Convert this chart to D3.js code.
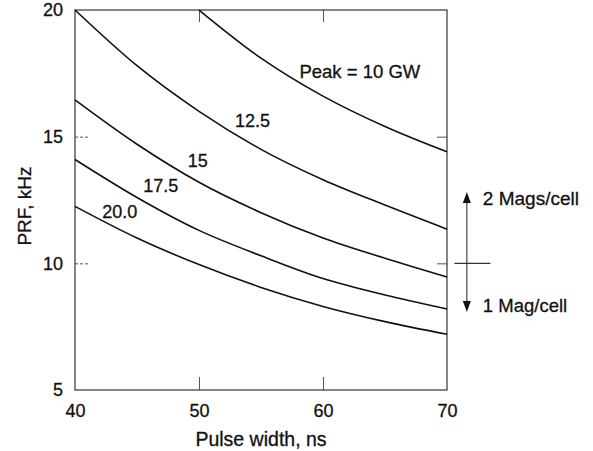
<!DOCTYPE html>
<html>
<head>
<meta charset="utf-8">
<script src="https://cdn.jsdelivr.net/npm/d3@7"></script>
<style>
  body { margin: 0; background: #fff; }
  text { font-family: "Liberation Sans", Arial, sans-serif; fill: #111; stroke: #111; stroke-width: 0.3px; }
  .axis .domain { display: none; }
  .axis line { stroke: #555; }
</style>
</head>
<body>
<svg id="chart"></svg>
<script>
// pulse width (ns) sampled every 5 ns
const pulseWidth = [40, 45, 50, 55, 60, 65, 70];

// PRF (kHz)
const prf10 = [null, null, 20.0, 18.1, 16.6, 15.4, 14.4];
const prf125 = [20.0, 17.8, 16.0, 14.5, 13.3, 12.3, 11.35];
const prf15 = [16.45, 14.7, 13.2, 12.0, 11.0, 10.2, 9.46];
const prf175 = [14.1, 12.6, 11.3, 10.3, 9.4, 8.75, 8.2];
const prf20 = [12.25, 11.0, 9.95, 9.05, 8.3, 7.7, 7.2];

const seriesNames = ['Peak = 10 GW', '12.5', '15', '17.5', '20.0'];
// label anchors (pulse width, PRF) for each curve
const labelX = [58.1, 52.9, 49.1, 45.5, 42.2];
const labelY = [17.3, 15.4, 13.8, 12.8, 11.8];

const xTicks = [40, 50, 60, 70];
const yTicks = [5, 10, 15, 20];

// cell-count note outside the frame, at the 10 kHz split
const splitPrf = 10;
const upNote = '2 Mags/cell';
const downNote = '1 Mag/cell';

const config = {
  width: 593,
  height: 451,
  margin: { top: 10, right: 146, bottom: 61, left: 75 },
};

const w = config.width - config.margin.left - config.margin.right;
const h = config.height - config.margin.top - config.margin.bottom;

const svg = d3.select('#chart')
  .attr('width', config.width)
  .attr('height', config.height);

const chart = svg.append('g')
  .attr('transform', `translate(${config.margin.left},${config.margin.top})`);

const xScale = d3.scaleLinear().domain([40, 70]).range([0, w]);
const yScale = d3.scaleLinear().domain([5, 20]).range([h, 0]);

// tick labels
chart.append('g')
  .attr('class', 'axis')
  .attr('transform', `translate(0,${h})`)
  .call(d3.axisBottom(xScale).tickValues(xTicks).tickSize(0).tickPadding(14))
  .call((g) => g.selectAll('text').style('font-size', '18px'));

chart.append('g')
  .attr('class', 'axis')
  .call(d3.axisLeft(yScale).tickValues(yTicks).tickSize(0).tickPadding(12))
  .call((g) => g.selectAll('text').style('font-size', '18px'));

// inner tick marks on all four sides
chart.append('g')
  .attr('class', 'axis')
  .attr('transform', `translate(0,${h})`)
  .call(d3.axisBottom(xScale).tickValues([50, 60]).tickSize(-13).tickFormat(''));
chart.append('g')
  .attr('class', 'axis')
  .call(d3.axisTop(xScale).tickValues([50, 60]).tickSize(-12).tickFormat(''));
chart.append('g')
  .attr('class', 'axis')
  .call(d3.axisLeft(yScale).tickValues([10, 15]).tickSize(-15).tickFormat(''))
  .call((g) => g.selectAll('line').attr('stroke-dasharray', '3,2'));
chart.append('g')
  .attr('class', 'axis')
  .attr('transform', `translate(${w},0)`)
  .call(d3.axisRight(yScale).tickValues([10, 15]).tickSize(-10).tickFormat(''));

// frame
chart.append('rect')
  .attr('width', w)
  .attr('height', h)
  .attr('fill', 'none')
  .attr('stroke', '#444')
  .attr('stroke-width', 1.3);

// curves
const allSeries = [prf10, prf125, prf15, prf175, prf20];
const line = d3.line()
  .defined((d) => d[1] !== null)
  .x((d) => xScale(d[0]))
  .y((d) => yScale(d[1]))
  .curve(d3.curveMonotoneX);

chart.selectAll('.curve')
  .data(allSeries.map((s) => pulseWidth.map((x, i) => [x, s[i]])))
  .join('path')
  .attr('class', 'curve')
  .attr('fill', 'none')
  .attr('stroke', '#111')
  .attr('stroke-width', 1.6)
  .attr('d', line);

chart.selectAll('.curve-label')
  .data(seriesNames)
  .join('text')
  .attr('class', 'curve-label')
  .attr('x', (d, i) => xScale(labelX[i]))
  .attr('y', (d, i) => yScale(labelY[i]))
  .style('font-size', (d, i) => (i === 0 ? '18.5px' : '18px'))
  .text((d) => d);

// axis titles
chart.append('text')
  .attr('x', w / 2)
  .attr('y', h + 56)
  .attr('text-anchor', 'middle')
  .style('font-size', '19.5px')
  .text('Pulse width, ns');

chart.append('text')
  .attr('transform', `translate(${-44},${h / 2 + 6}) rotate(-90)`)
  .attr('text-anchor', 'middle')
  .style('font-size', '19px')
  .text('PRF, kHz');

// 1 / 2 magnetrons per cell marker
const arrowX = xScale(71.6);
const upTip = yScale(12.82);
const downTip = yScale(8.08);

chart.append('line')
  .attr('x1', arrowX).attr('x2', arrowX)
  .attr('y1', upTip + 8).attr('y2', downTip - 8)
  .attr('stroke', '#333').attr('stroke-width', 1.1);
chart.append('line')
  .attr('x1', xScale(70.6)).attr('x2', xScale(73.5))
  .attr('y1', yScale(splitPrf)).attr('y2', yScale(splitPrf))
  .attr('stroke', '#333').attr('stroke-width', 1.1);

chart.append('path')
  .attr('d', `M${arrowX},${upTip}L${arrowX - 4},${upTip + 11}L${arrowX + 4},${upTip + 11}Z`)
  .attr('fill', '#111');
chart.append('path')
  .attr('d', `M${arrowX},${downTip}L${arrowX - 4},${downTip - 11}L${arrowX + 4},${downTip - 11}Z`)
  .attr('fill', '#111');

chart.append('text')
  .attr('x', arrowX + 16)
  .attr('y', upTip + 13)
  .style('font-size', '19px')
  .text(upNote);
chart.append('text')
  .attr('x', arrowX + 16)
  .attr('y', downTip)
  .style('font-size', '18.5px')
  .text(downNote);
</script>
</body>
</html>
